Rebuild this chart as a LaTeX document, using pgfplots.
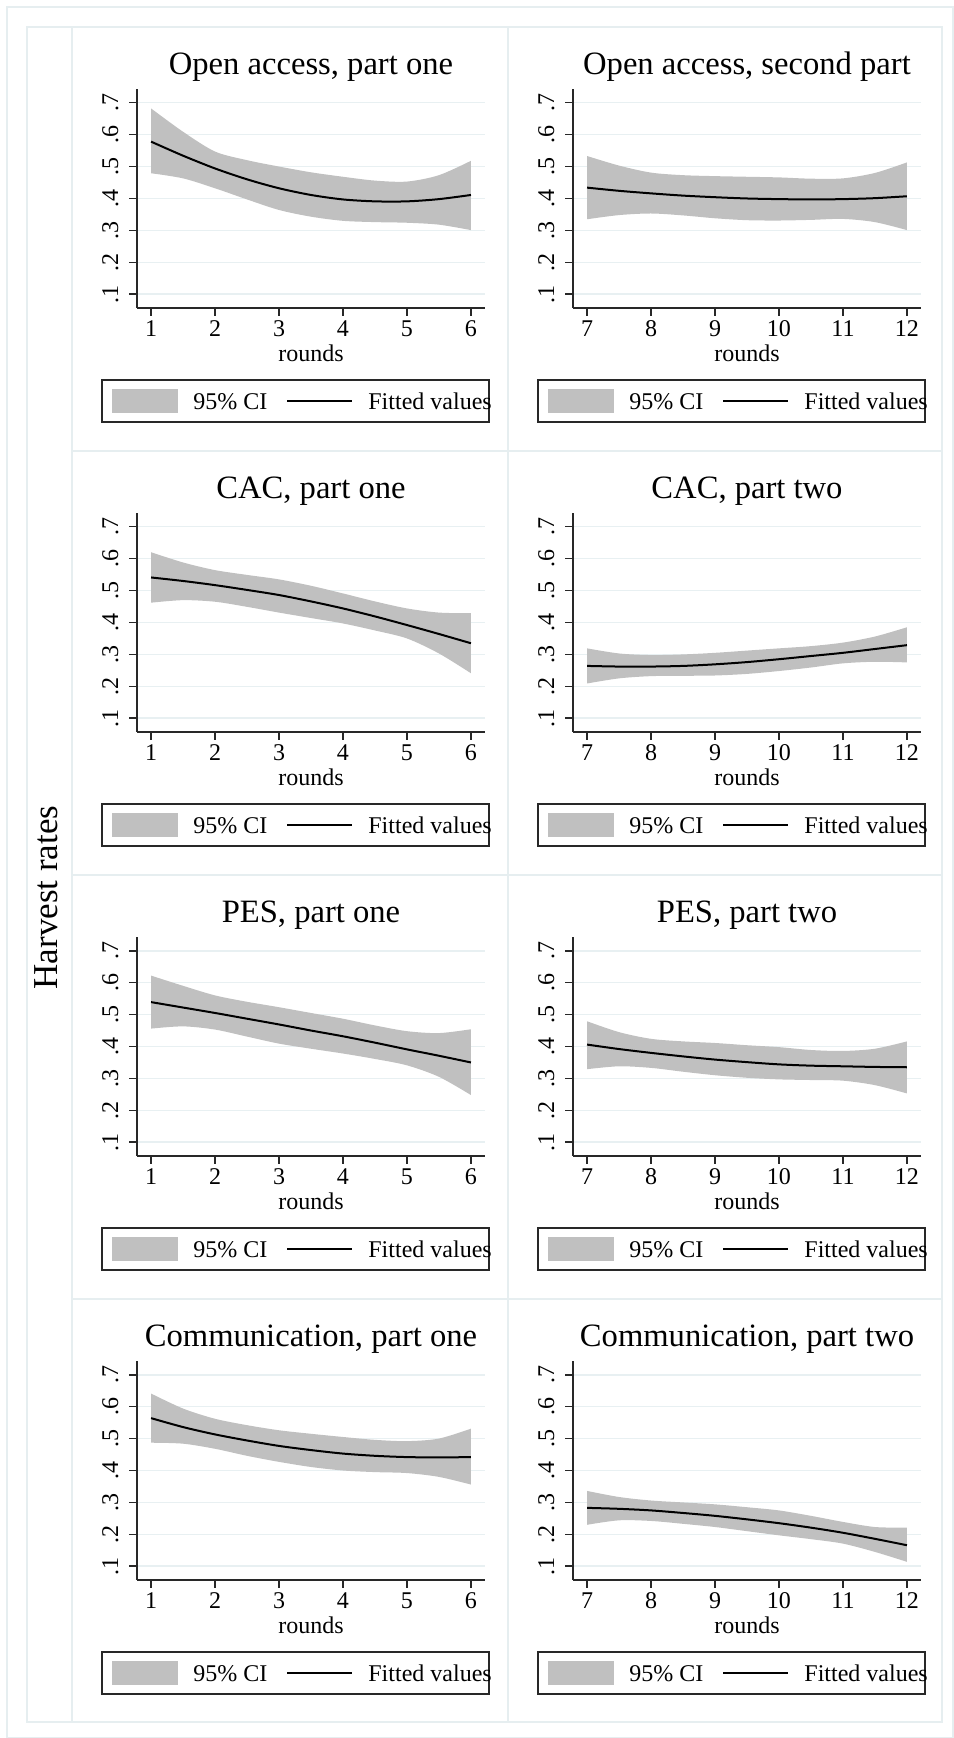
\documentclass[border=0pt]{standalone}
\usepackage{pgfplots}
\pgfplotsset{compat=1.18}
\usepackage{pgfplotstable}
\usepgfplotslibrary{fillbetween}
\usepackage{fontspec}
\setmainfont{Liberation Serif}

\definecolor{bandgray}{RGB}{192,192,192}
\definecolor{gridc}{RGB}{232,240,242}
\definecolor{framec}{RGB}{230,238,240}
\definecolor{axisc}{RGB}{40,40,40}

% x  fitted  upper-CI  lower-CI
\pgfplotstableread{
x   fit   up    lo
1   0.578 0.682 0.479
1.5 0.534 0.609 0.463
2   0.494 0.547 0.432
2.5 0.460 0.520 0.397
3   0.432 0.500 0.364
3.5 0.411 0.482 0.343
4   0.397 0.468 0.330
4.5 0.391 0.456 0.326
5   0.391 0.453 0.324
5.5 0.398 0.473 0.318
6   0.411 0.518 0.301
}\tOAa
\pgfplotstableread{
x    fit   up    lo
7    0.434 0.533 0.335
7.5  0.424 0.503 0.348
8    0.416 0.481 0.353
8.5  0.409 0.473 0.347
9    0.404 0.470 0.338
9.5  0.400 0.468 0.332
10   0.398 0.466 0.331
10.5 0.397 0.462 0.333
11   0.398 0.463 0.336
11.5 0.401 0.480 0.326
12   0.407 0.513 0.301
}\tOAb
\pgfplotstableread{
x   fit   up    lo
1   0.541 0.620 0.462
1.5 0.530 0.588 0.470
2   0.517 0.564 0.465
2.5 0.502 0.549 0.449
3   0.486 0.535 0.431
3.5 0.466 0.515 0.414
4   0.444 0.491 0.397
4.5 0.419 0.466 0.375
5   0.392 0.444 0.350
5.5 0.364 0.431 0.303
6   0.335 0.429 0.241
}\tCACa
\pgfplotstableread{
x    fit   up    lo
7    0.264 0.319 0.209
7.5  0.262 0.303 0.225
8    0.262 0.298 0.232
8.5  0.264 0.300 0.233
9    0.269 0.305 0.234
9.5  0.276 0.312 0.239
10   0.285 0.319 0.248
10.5 0.295 0.326 0.259
11   0.305 0.337 0.272
11.5 0.317 0.356 0.277
12   0.329 0.385 0.275
}\tCACb
\pgfplotstableread{
x   fit   up    lo
1   0.539 0.622 0.456
1.5 0.522 0.590 0.463
2   0.505 0.560 0.453
2.5 0.487 0.540 0.431
3   0.469 0.523 0.409
3.5 0.450 0.505 0.393
4   0.432 0.487 0.378
4.5 0.412 0.466 0.361
5   0.391 0.448 0.341
5.5 0.371 0.442 0.305
6   0.350 0.454 0.248
}\tPESa
\pgfplotstableread{
x    fit   up    lo
7    0.406 0.479 0.329
7.5  0.392 0.445 0.338
8    0.380 0.424 0.333
8.5  0.369 0.416 0.321
9    0.359 0.411 0.310
9.5  0.351 0.404 0.302
10   0.344 0.398 0.297
10.5 0.340 0.389 0.295
11   0.338 0.386 0.293
11.5 0.336 0.393 0.279
12   0.335 0.416 0.253
}\tPESb
\pgfplotstableread{
x   fit   up    lo
1   0.564 0.641 0.487
1.5 0.536 0.594 0.484
2   0.513 0.562 0.468
2.5 0.494 0.542 0.446
3   0.477 0.526 0.427
3.5 0.464 0.515 0.411
4   0.453 0.505 0.400
4.5 0.446 0.496 0.395
5   0.442 0.492 0.392
5.5 0.441 0.500 0.380
6   0.442 0.531 0.356
}\tCOMa
\pgfplotstableread{
x    fit   up    lo
7    0.283 0.336 0.230
7.5  0.280 0.317 0.244
8    0.275 0.306 0.242
8.5  0.267 0.300 0.233
9    0.258 0.294 0.223
9.5  0.247 0.285 0.210
10   0.235 0.275 0.197
10.5 0.221 0.258 0.185
11   0.205 0.239 0.171
11.5 0.186 0.223 0.145
12   0.166 0.221 0.114
}\tCOMb

\pgfplotsset{
  harvest/.style={
    scale only axis, width=174pt, height=109.35pt,
    anchor=south west,
    ymin=0.0571, ymax=0.742,
    ytick={0.1,0.2,0.3,0.4,0.5,0.6,0.7},
    yticklabels={.1,.2,.3,.4,.5,.6,.7},
    axis x line*=bottom, axis y line*=left,
    axis line style={axisc, line width=1pt},
    tick align=outside, major tick length=4pt,
    tick style={axisc, line width=0.8pt},
    ymajorgrids, grid style={gridc, line width=0.8pt},
    tick label style={font=\fontsize{12}{14}\selectfont, inner sep=0pt},
    xticklabel style={anchor=base, yshift=-10.5pt},
    yticklabel style={anchor=base, xshift=-5.5pt, rotate=90},
  }
}

\tikzset{
  frame/.style={framec, line width=0.9pt},
  small/.style={font=\fontsize{12}{14}\selectfont},
  pix/.style={shift={(0pt,869pt)}, x=0.5pt, y=-0.5pt},
}

% positions are pixels of the 953x1738 image, measured from the top left
% #1 cell left, #2 cell top, #3 xmin, #4 xmax, #5 xticks, #6 title, #7 table
\newcommand{\panel}[7]{%
  \pgfmathsetmacro{\ax}{(#1+65)*0.5}%
  \pgfmathsetmacro{\ay}{(1738-#2-281)*0.5}%
  \coordinate (o) at (\ax pt,\ay pt);
  \begin{axis}[harvest, at={(o)}, xmin=#3, xmax=#4,
      xtick={#5}, xticklabels={#5}]
    \addplot[name path=up, draw=none, smooth] table[x=x, y=up]{#7};
    \addplot[name path=lo, draw=none, smooth] table[x=x, y=lo]{#7};
    \addplot[bandgray, draw=none] fill between[of=up and lo];
    \addplot[black, line width=1pt, smooth] table[x=x, y=fit]{#7};
  \end{axis}
  \begin{scope}[pix]
    \node[anchor=base, inner sep=0pt, font=\fontsize{16.3}{18}\selectfont]
      at ({#1+239},{#2+48}) {#6};
    \node[anchor=base, inner sep=0pt, small] at ({#1+239},{#2+335}) {rounds};
    \draw[axisc, line width=0.8pt] ({#1+30},{#2+353}) rectangle ({#1+417},{#2+395});
    \fill[bandgray] ({#1+40},{#2+362}) rectangle ({#1+106},{#2+386});
    \node[anchor=base west, inner sep=0pt, small] at ({#1+121},{#2+383}) {95\% CI};
    \draw[black, line width=1pt] ({#1+215},{#2+374.5}) -- ({#1+280},{#2+374.5});
    \node[anchor=base west, inner sep=0pt, small] at ({#1+296},{#2+383}) {Fitted values};
  \end{scope}
}

\begin{document}
\begin{tikzpicture}
  \begin{scope}[pix]
    \draw[frame] (7,7) rectangle (953,1738);
    \draw[frame] (27,27) rectangle (942,1722);
    \draw[frame] (72,27) -- (72,1722);
    \draw[frame] (508,27) -- (508,1722);
    \draw[frame] (72,451) -- (942,451);
    \draw[frame] (72,875) -- (942,875);
    \draw[frame] (72,1299) -- (942,1299);
    \node[rotate=90, inner sep=0pt, font=\fontsize{17.5}{20}\selectfont]
      at (46.5,897.5) {Harvest rates};
  \end{scope}

  \panel{72}{27}{0.78}{6.22}{1,2,3,4,5,6}{Open access, part one}{\tOAa}
  \panel{508}{27}{6.78}{12.22}{7,8,9,10,11,12}{Open access, second part}{\tOAb}
  \panel{72}{451}{0.78}{6.22}{1,2,3,4,5,6}{CAC, part one}{\tCACa}
  \panel{508}{451}{6.78}{12.22}{7,8,9,10,11,12}{CAC, part two}{\tCACb}
  \panel{72}{875}{0.78}{6.22}{1,2,3,4,5,6}{PES, part one}{\tPESa}
  \panel{508}{875}{6.78}{12.22}{7,8,9,10,11,12}{PES, part two}{\tPESb}
  \panel{72}{1299}{0.78}{6.22}{1,2,3,4,5,6}{Communication, part one}{\tCOMa}
  \panel{508}{1299}{6.78}{12.22}{7,8,9,10,11,12}{Communication, part two}{\tCOMb}

  \pgfresetboundingbox
  \useasboundingbox (0pt,0pt) rectangle (476.5pt,869pt);
\end{tikzpicture}
\end{document}
